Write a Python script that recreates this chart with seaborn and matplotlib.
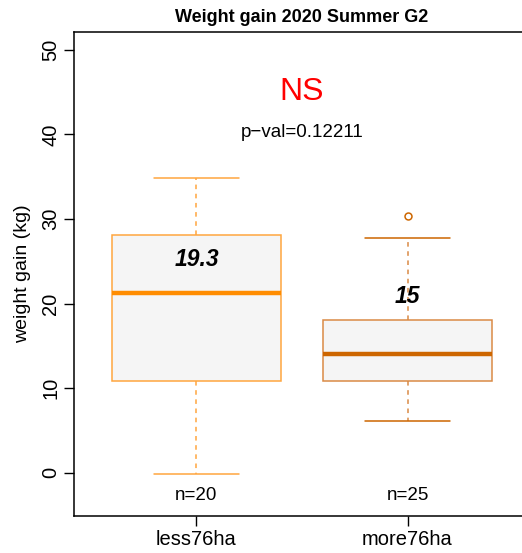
import matplotlib
matplotlib.use("Agg")
import matplotlib.pyplot as plt
import seaborn as sns

# Summary statistics per group (R-style boxplot hinges)
groups = ["less76ha", "more76ha"]
whisker_low = [-0.1, 6.15]
q1 = [10.9, 10.9]
medians = [21.2, 14.05]
q3 = [28.1, 18.1]
whisker_high = [34.8, 27.8]
outliers = [[], [30.3]]
means = [19.3, 15]
counts = [20, 25]
p_value = 0.12211

edge_colors = ["#FFA63F", "#DA8A45"]
median_colors = ["#FF8C00", "#CD6600"]

sns.set_theme(style="white")
plt.rcParams["font.family"] = ["Liberation Sans", "DejaVu Sans"]
plt.rcParams.update({"text.color": "black", "axes.labelcolor": "black",
                     "xtick.color": "black", "ytick.color": "black"})

fig = plt.figure(figsize=(5.22, 5.53), dpi=100)
ax = fig.add_axes([74 / 522, 1 - 516 / 553, 456 / 522, 484 / 553])

stats = []
for i, g in enumerate(groups):
    stats.append(dict(label=g, whislo=whisker_low[i], q1=q1[i], med=medians[i],
                      q3=q3[i], whishi=whisker_high[i], fliers=outliers[i]))

for i, st in enumerate(stats):
    ax.bxp([st], positions=[i], widths=0.8, capwidths=0.4, patch_artist=True,
           showfliers=True,
           boxprops=dict(facecolor="#F5F5F5", edgecolor=edge_colors[i], linewidth=1.1),
           medianprops=dict(color=median_colors[i], linewidth=3.2, solid_capstyle="butt"),
           whiskerprops=dict(color=edge_colors[i], linewidth=1.1, linestyle=(0, (3, 3))),
           capprops=dict(color=median_colors[i] if i == 1 else edge_colors[i], linewidth=1.1),
           flierprops=dict(marker="o", markerfacecolor="none",
                           markeredgecolor=median_colors[i], markersize=5, markeredgewidth=1.1))

for i in range(len(groups)):
    ax.text(i, means[i] + 5.9, f"{means[i]:g}", ha="center", va="center",
            fontsize=16.5, fontweight="bold", fontstyle="italic", color="black")
    ax.text(i, -2.7, f"n={counts[i]}", ha="center", va="center", fontsize=13.5)

ax.text(0.5, 45.0, "NS", ha="center", va="center", fontsize=23, color="red")
ax.text(0.5, 40.2, f"p\u2212val={p_value}", ha="center", va="center", fontsize=13.5)

ax.set_xlim(-0.58, 1.58)
ax.set_ylim(-5.1, 52.1)
ax.set_yticks([0, 10, 20, 30, 40, 50])
ax.set_yticklabels(["0", "10", "20", "30", "40", "50"], rotation=90, va="center")
ax.set_xticks([0, 1])
ax.set_xticklabels(groups)
ax.tick_params(axis="both", which="both", direction="out", length=7, width=1,
               color="black", labelsize=14.5, pad=3, left=True, bottom=True)
ax.tick_params(axis="x", labelsize=14.5)
for s in ax.spines.values():
    s.set_color("black")
    s.set_linewidth(1.1)
ax.set_ylabel("weight gain (kg)", fontsize=14, labelpad=7)
ax.set_title("Weight gain 2020 Summer G2", fontsize=13, fontweight="bold", pad=7)

fig.savefig("out.png", dpi=100)
